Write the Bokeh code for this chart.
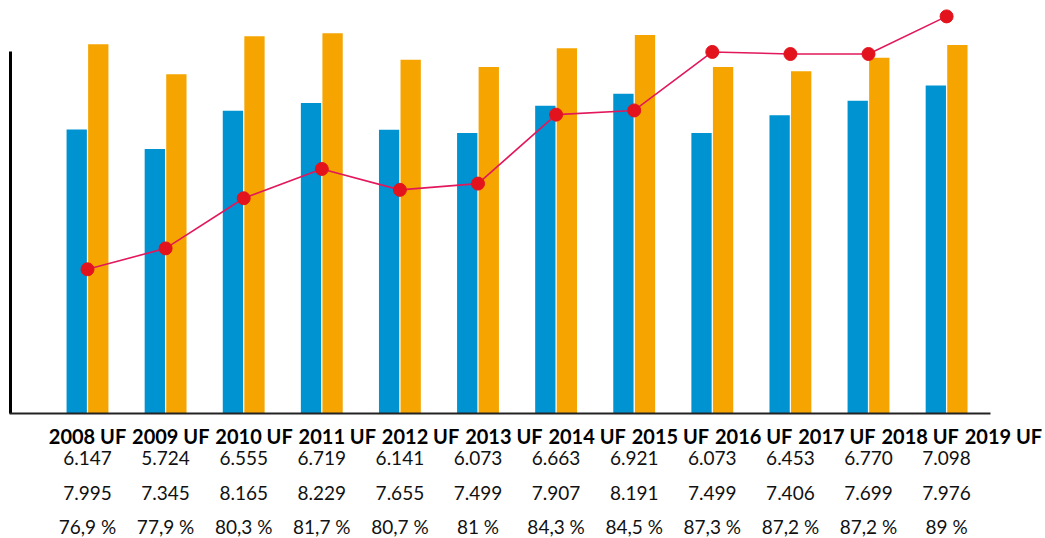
import numpy as np
from bokeh.plotting import figure
from bokeh.models import Range1d, ColumnDataSource
from bokeh.core.properties import value
from bokeh.embed import file_html
from bokeh.resources import INLINE

# ---- data ----
years = ["2008 UF", "2009 UF", "2010 UF", "2011 UF", "2012 UF", "2013 UF",
         "2014 UF", "2015 UF", "2016 UF", "2017 UF", "2018 UF", "2019 UF"]
blue_vals = [6147, 5724, 6555, 6719, 6141, 6073, 6663, 6921, 6073, 6453, 6770, 7098]
orange_vals = [7995, 7345, 8165, 8229, 7655, 7499, 7907, 8191, 7499, 7406, 7699, 7976]
pct_vals = [76.9, 77.9, 80.3, 81.7, 80.7, 81.0, 84.3, 84.5, 87.3, 87.2, 87.2, 89.0]

BLUE = "#0093D2"
ORANGE = "#F5A400"
LINE_RED = "#E2185B"
DOT_RED = "#E3131D"

W, H = 1045, 538
FIRST_PX = 87.0      # pixel x of first group
GROUP_PX = 78.1      # pixel distance between groups
LABEL_PX = 83.27     # pixel distance between year labels
BASE_PX = 413.0      # pixel y of value 0
VAL_SCALE = 0.0462   # pixels per unit value
PCT_SCALE = 20.9     # pixels per percent point
PCT_BASE = 70.0      # percent at baseline


def fmt_int(v):
    return f"{v:,}".replace(",", ".")


def fmt_pct(v):
    if float(v).is_integer():
        return f"{int(v)} %"
    return f"{v:.1f}".replace(".", ",") + " %"


n = len(years)
idx = np.arange(n)

p = figure(width=W, height=H, output_backend="svg", toolbar_location=None,
           x_range=Range1d(-FIRST_PX / GROUP_PX, (W - FIRST_PX) / GROUP_PX),
           y_range=Range1d(-(H - BASE_PX) / VAL_SCALE, BASE_PX / VAL_SCALE),
           x_axis_location=None, y_axis_location=None,
           min_border=0, min_border_left=0, min_border_right=0,
           min_border_top=0, min_border_bottom=0)
p.outline_line_color = None
p.xgrid.visible = False
p.ygrid.visible = False
p.background_fill_color = "white"
p.border_fill_color = "white"

p.extra_y_ranges = {
    "pct": Range1d(PCT_BASE - (H - BASE_PX) / PCT_SCALE, PCT_BASE + BASE_PX / PCT_SCALE),
    "px": Range1d(H, 0),
}
p.extra_x_ranges = {
    "labels": Range1d(-FIRST_PX / LABEL_PX, (W - FIRST_PX) / LABEL_PX),
    "px": Range1d(0, W),
}

src = ColumnDataSource(dict(
    x=idx, blue=blue_vals, orange=orange_vals, pct=pct_vals,
    blue_txt=[fmt_int(v) for v in blue_vals],
    orange_txt=[fmt_int(v) for v in orange_vals],
    pct_txt=[fmt_pct(v) for v in pct_vals],
    year=years,
))

# bars
p.vbar(x=idx - 0.138, top=blue_vals, bottom=0, width=0.26, fill_color=BLUE, line_color=None)
p.vbar(x=idx + 0.138, top=orange_vals, bottom=0, width=0.26, fill_color=ORANGE, line_color=None)

# axis lines (decoration, pixel coordinates)
p.segment(x0=[10], y0=[51], x1=[10], y1=[BASE_PX], x_range_name="px", y_range_name="px",
          line_color="black", line_width=3)
p.segment(x0=[9], y0=[BASE_PX], x1=[990], y1=[BASE_PX], x_range_name="px", y_range_name="px",
          line_color="#222222", line_width=2)

# percent line
p.line(x="x", y="pct", source=src, y_range_name="pct", line_color=LINE_RED, line_width=1.6)
p.scatter(x="x", y="pct", source=src, y_range_name="pct", size=13,
          fill_color=DOT_RED, line_color=DOT_RED)

# year labels
p.text(x="x", y=435, text="year", source=src, x_range_name="labels", y_range_name="px",
       text_font=value("Lato"), text_font_style="bold", text_font_size="20px",
       text_align="center", text_baseline="middle", text_color="black")

# value rows
for col, ypx in (("blue_txt", 457), ("orange_txt", 492), ("pct_txt", 526)):
    p.text(x="x", y=ypx, text=col, source=src, y_range_name="px",
           text_font=value("Lato"), text_font_size="19px",
           text_align="center", text_baseline="middle", text_color="#111111")

open("out.html", "w").write(file_html(p, INLINE))
